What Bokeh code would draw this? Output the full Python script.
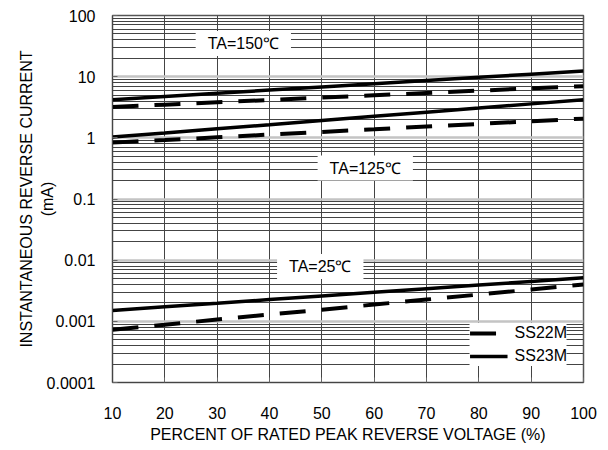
from bokeh.plotting import figure
from bokeh.models import Range1d, FixedTicker, Label, Legend, LegendItem
from bokeh.core.properties import value
from bokeh.embed import file_html
from bokeh.resources import INLINE

# Percent of rated peak reverse voltage
voltage = [10, 20, 30, 40, 50, 60, 70, 80, 90, 100]

# Instantaneous reverse current (mA)
ss23m_150 = [4.2, 4.74, 5.35, 6.03, 6.8, 7.67, 8.66, 9.77, 11.0, 12.4]
ss22m_150 = [3.2, 3.49, 3.81, 4.16, 4.54, 4.96, 5.41, 5.91, 6.45, 7.0]
ss23m_125 = [1.03, 1.20, 1.41, 1.64, 1.92, 2.25, 2.63, 3.07, 3.59, 4.2]
ss22m_125 = [0.835, 0.92, 1.02, 1.13, 1.25, 1.38, 1.53, 1.69, 1.87, 2.06]
ss23m_25 = [0.00151, 0.00173, 0.00198, 0.00227, 0.00260, 0.00298, 0.00342, 0.00391, 0.00448, 0.00514]
ss22m_25 = [0.00073, 0.00088, 0.00107, 0.00129, 0.00155, 0.00188, 0.00227, 0.00274, 0.00331, 0.0040]

x_ticks = [10, 20, 30, 40, 50, 60, 70, 80, 90, 100]
y_ticks = [0.0001, 0.001, 0.01, 0.1, 1, 10, 100]
y_tick_labels = ["0.0001", "0.001", "0.01", "0.1", "1", "10", "100"]
y_minor = [m * d for d in [0.0001, 0.001, 0.01, 0.1, 1, 10] for m in range(2, 10)]

temp_labels = ["TA=150℃", "TA=125℃", "TA=25℃"]
temp_label_x = [35, 58.3, 49.7]
temp_label_y = [35, 0.32, 0.0079]

FONT = "Liberation Sans"

p = figure(frame_width=471, frame_height=367, y_axis_type="log",
           x_range=Range1d(10, 100), y_range=Range1d(0.0001, 100),
           output_backend="svg", toolbar_location=None,
           min_border_left=112, min_border_right=17, min_border_top=15, min_border_bottom=60)

p.background_fill_color = "white"
p.border_fill_color = "white"
p.outline_line_color = "#555555"
p.outline_line_width = 1.5

# axes
p.xaxis.ticker = FixedTicker(ticks=x_ticks)
p.yaxis.ticker = FixedTicker(ticks=y_ticks, minor_ticks=y_minor)
p.yaxis.major_label_overrides = {t: l for t, l in zip([1e-4, 0.001, 0.01, 0.1, 1, 10, 100], y_tick_labels)}
for ax in (p.xaxis, p.yaxis):
    ax.axis_line_color = "#444444"
    ax.major_tick_line_color = "#666666"
    ax.major_tick_in = 5
    ax.major_tick_out = 0
    ax.minor_tick_line_color = None
    ax.major_label_text_font = FONT
    ax.major_label_text_font_size = "16px"
    ax.major_label_text_color = "black"
    ax.axis_label_text_font = FONT
    ax.axis_label_text_font_size = "16px"
    ax.axis_label_text_font_style = "normal"
    ax.axis_label_text_color = "black"
p.xaxis.major_label_standoff = 24
p.xaxis.axis_label = "PERCENT OF RATED PEAK REVERSE VOLTAGE (%)"
p.xaxis.axis_label_standoff = 4
p.yaxis.major_label_standoff = 13
p.yaxis.axis_label = "INSTANTANEOUS REVERSE CURRENT\n(mA)"
p.yaxis.axis_label_standoff = -12

# grids
p.xgrid.ticker = FixedTicker(ticks=x_ticks)
p.xgrid.grid_line_color = "#444444"
p.xgrid.grid_line_width = 1
p.ygrid.ticker = FixedTicker(ticks=y_ticks, minor_ticks=y_minor)
p.ygrid.grid_line_color = "#c4c4c4"
p.ygrid.grid_line_width = 2.5
p.ygrid.minor_grid_line_color = "#444444"
p.ygrid.minor_grid_line_width = 1

DASH = "26 16"
r22 = []
r23 = []
for y22, y23 in [(ss22m_150, ss23m_150), (ss22m_125, ss23m_125), (ss22m_25, ss23m_25)]:
    r23.append(p.line(voltage, y23, line_color="black", line_width=3.5))
    r22.append(p.line(voltage, y22, line_color="black", line_width=4, line_dash=DASH))

for t, lx, ly in zip(temp_labels, temp_label_x, temp_label_y):
    p.add_layout(Label(x=lx, y=ly, text=t, text_align="center", text_baseline="middle",
                       text_font=FONT, text_font_size="16px", text_color="black",
                       background_fill_color="white", padding=(12, 4)))

legend = Legend(items=[LegendItem(label="SS22M", renderers=[r22[0]]),
                       LegendItem(label="SS23M", renderers=[r23[0]])],
                location="bottom_right", margin=16, padding=8, spacing=3,
                glyph_width=38, glyph_height=20, label_height=20, label_standoff=7,
                label_text_font=FONT, label_text_font_size="16px", label_text_color="black",
                background_fill_color="white", background_fill_alpha=1.0,
                border_line_color=None)
p.add_layout(legend)

open("out.html", "w").write(file_html(p, INLINE))
